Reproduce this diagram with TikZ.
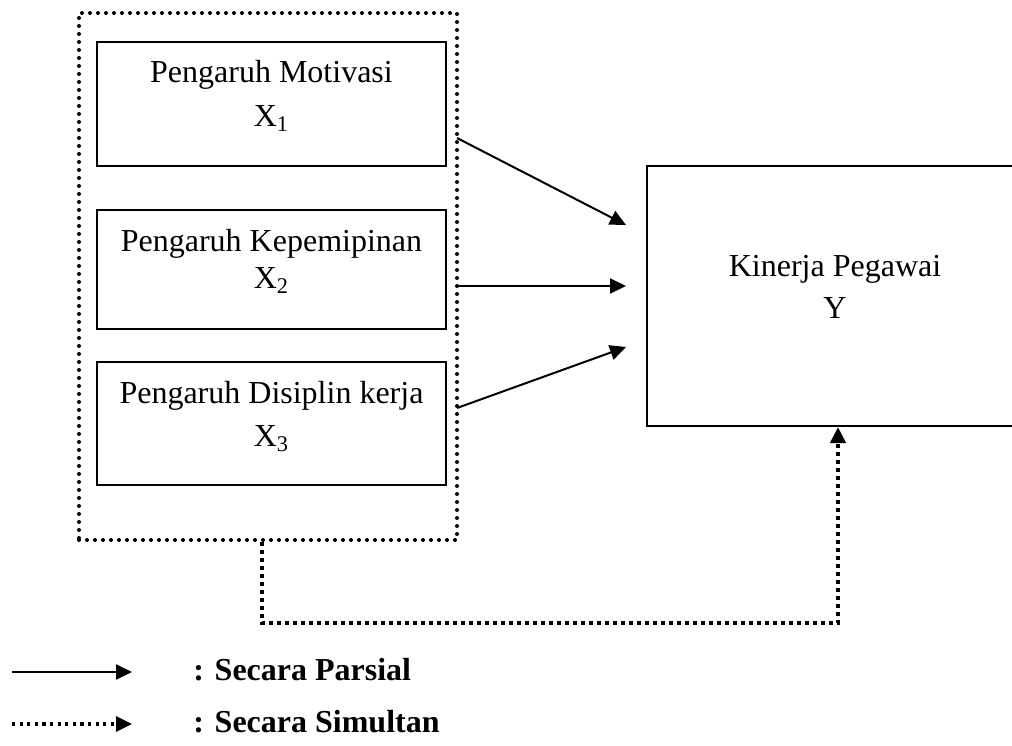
\documentclass[tikz,border=0pt]{standalone}
\usepackage{fontspec}
\setmainfont{Liberation Serif}
\usetikzlibrary{arrows.meta,fit}
\tikzset{
  box/.style={draw, line width=1pt, inner sep=0pt},
  outerdots/.style={draw, line width=2pt, dash pattern=on 0pt off 4pt, line cap=round, inner sep=0pt},
  arr/.style={line width=1pt, -{Triangle[length=8pt,width=7.5pt]}},
  simul/.style={line width=2pt, dash pattern=on 2pt off 2pt, -{Triangle[length=8pt,width=7.5pt]}},
  legdots/.style={line width=1.6pt, dash pattern=on 1.6pt off 2.2pt, -{Triangle[length=8pt,width=7.5pt]}},
  lbl/.style={anchor=base, inner sep=0pt},
  leg/.style={anchor=base west, inner sep=0pt, font=\fontsize{16}{19}\selectfont\bfseries}
}
\begin{document}
\begin{tikzpicture}[x=0.5pt, y=-0.5pt, font=\fontsize{16}{19}\selectfont]
\useasboundingbox (0,0) rectangle (1012,745);
\clip (0,0) rectangle (1012,745);
% outer dotted group
\node[outerdots, fit={(79,13) (457,540)}] (outer) {};
% boxes
\node[box, fit={(97,42) (446,166)}] (b1) {};
\node[box, fit={(97,210) (446,329)}] (b2) {};
\node[box, fit={(97,362) (446,485)}] (b3) {};
\node[box, fit={(647,166) (1023,426)}] (Y) {};
% texts
\node[lbl] (t1a) at (271.5,82) {Pengaruh Motivasi};
\node[lbl] (t1b) at (271.5,126) {X\textsubscript{1}};
\node[lbl] (t2a) at (271.5,251) {Pengaruh Kepemipinan};
\node[lbl] (t2b) at (271.5,288) {X\textsubscript{2}};
\node[lbl] (t3a) at (271.5,403) {Pengaruh Disiplin kerja};
\node[lbl] (t3b) at (271.5,446) {X\textsubscript{3}};
\node[lbl] (tya) at (835,276) {Kinerja Pegawai};
\node[lbl] (tyb) at (835,318) {Y};
% partial arrows
\coordinate (s1) at (457,138);
\coordinate (e1) at (626,225);
\coordinate (s2) at (457,286);
\coordinate (e2) at (626,286);
\coordinate (s3) at (457,408);
\coordinate (e3) at (626,347);
\draw[arr] (s1) -- (e1);
\draw[arr] (s2) -- (e2);
\draw[arr] (s3) -- (e3);
% simultaneous path
\coordinate (c1) at (262,623);
\coordinate (c2) at (838,623);
\draw[simul] (c1 |- outer.south) -- (c1) -- (c2) -- (c2 |- Y.south);
% legend
\coordinate (l1a) at (12,672);
\coordinate (l1b) at (132,672);
\coordinate (l2a) at (12,724);
\coordinate (l2b) at (132,724);
\draw[arr] (l1a) -- (l1b);
\draw[legdots] (l2a) -- (l2b);
\node[leg] (leg1) at (193,680) {: Secara Parsial};
\node[leg] (leg2) at (193,732) {: Secara Simultan};
\end{tikzpicture}
\end{document}
